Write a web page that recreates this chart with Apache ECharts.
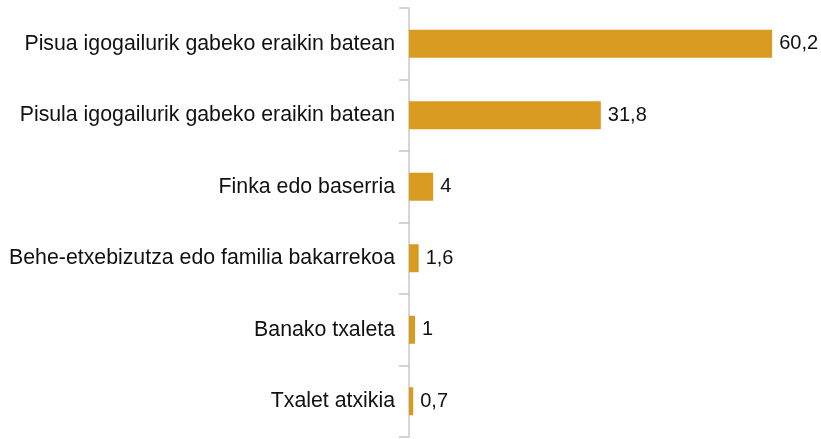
<!DOCTYPE html>
<html>
<head>
<meta charset="utf-8">
<script src="https://cdn.jsdelivr.net/npm/echarts@6/dist/echarts.min.js"></script>
<style>
html,body{margin:0;padding:0;background:#fff;}
#chart{width:821px;height:439px;}
</style>
</head>
<body>
<div id="chart"></div>
<script>
var categories = ['Pisua igogailurik gabeko eraikin batean','Pisula igogailurik gabeko eraikin batean','Finka edo baserria','Behe-etxebizutza edo familia bakarrekoa','Banako txaleta','Txalet atxikia'];
var values = [60.2, 31.8, 4, 1.6, 1, 0.7];

var chart = echarts.init(document.getElementById('chart'));
var option = {
    animation: false,
    grid: {
        left: 409,
        right: 0,
        top: 8,
        bottom: 2,
        containLabel: false
    },
    xAxis: {
        type: 'value',
        min: 0,
        max: 68.3,
        show: false
    },
    yAxis: {
        type: 'category',
        inverse: true,
        data: categories,
        axisLine: {lineStyle: {color: '#c8c8c8', width: 1.5}},
        axisTick: {show: true, length: 10, lineStyle: {color: '#c8c8c8', width: 1.5}},
        axisLabel: {
            color: '#111',
            fontSize: 21.3,
            fontFamily: 'Liberation Sans, Arial, sans-serif',
            margin: 14
        }
    },
    series: [{
        type: 'bar',
        data: values,
        barWidth: 28,
        itemStyle: {color: '#d99a20'},
        label: {
            show: true,
            position: 'right',
            distance: 7,
            color: '#111',
            fontSize: 20,
            fontFamily: 'Liberation Sans, Arial, sans-serif',
            formatter: function (p) { return String(p.value).replace('.', ','); }
        }
    }]
};
chart.setOption(option);
</script>
</body>
</html>
